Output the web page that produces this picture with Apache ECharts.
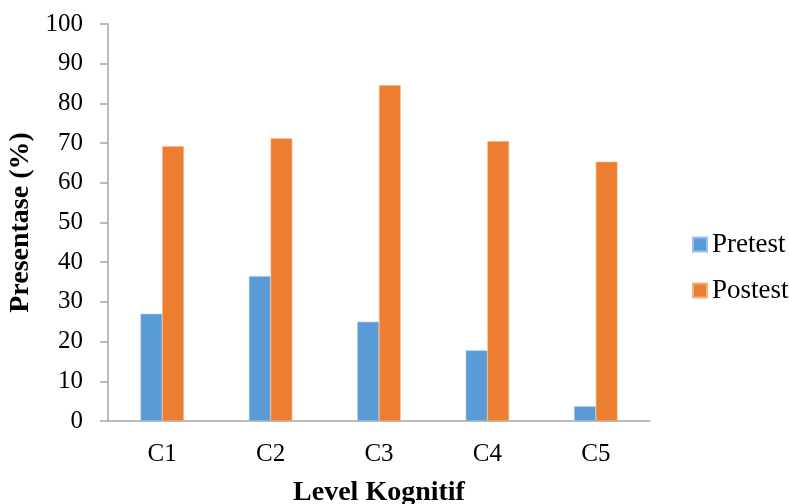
<!DOCTYPE html>
<html>
<head>
<meta charset="utf-8">
<script src="https://cdn.jsdelivr.net/npm/echarts@6/dist/echarts.min.js"></script>
<style>
  html, body { margin: 0; padding: 0; background: #ffffff; }
  #chart { width: 789px; height: 504px; }
</style>
</head>
<body>
<div id="chart"></div>
<script>
// Cognitive levels and percentages before and after the treatment
const categories = ['C1', 'C2', 'C3', 'C4', 'C5'];
const pretest = [27, 36.5, 25, 17.8, 3.7];
const postest = [69.2, 71.2, 84.6, 70.5, 65.3];
const yTicks = { min: 0, max: 100, interval: 10 };

const serif = '"Liberation Serif", "Times New Roman", serif';
const axisGrey = '#a6a6a6';

const chart = echarts.init(document.getElementById('chart'), null, { renderer: 'canvas' });
chart.setOption({
  animation: false,
  backgroundColor: '#ffffff',
  textStyle: { fontFamily: serif, color: '#000000' },
  grid: { left: 108, right: 139, top: 24, bottom: 83, containLabel: false, outerBoundsMode: 'none' },
  legend: {
    orient: 'vertical',
    left: 692,
    top: 231,
    padding: 0,
    itemWidth: 14,
    itemHeight: 14,
    itemGap: 19,
    icon: 'rect',
    textStyle: { fontFamily: serif, fontSize: 27, color: '#000000' },
    data: ['Pretest', 'Postest']
  },
  xAxis: {
    type: 'category',
    data: categories,
    name: 'Level Kognitif',
    nameLocation: 'middle',
    nameGap: 58,
    nameTextStyle: { fontFamily: serif, fontSize: 28, fontWeight: 'bold', color: '#000000' },
    axisLine: { lineStyle: { color: axisGrey, width: 1.5 } },
    axisTick: { show: false },
    axisLabel: { fontFamily: serif, fontSize: 25, color: '#000000', margin: 21 }
  },
  yAxis: {
    type: 'value',
    min: yTicks.min,
    max: yTicks.max,
    interval: yTicks.interval,
    name: 'Presentase (%)',
    nameLocation: 'middle',
    nameGap: 68,
    nameTextStyle: { fontFamily: serif, fontSize: 28, fontWeight: 'bold', color: '#000000' },
    axisLine: { show: true, lineStyle: { color: axisGrey, width: 1.5 } },
    axisTick: { show: true, inside: false, length: 8, lineStyle: { color: axisGrey, width: 1.5 } },
    splitLine: { show: false },
    axisLabel: { fontFamily: serif, fontSize: 25, color: '#000000', margin: 25 }
  },
  series: [
    {
      name: 'Pretest',
      type: 'bar',
      data: pretest,
      barWidth: '20%',
      barGap: '0%',
      itemStyle: { color: '#5b9bd5', borderColor: '#9cc3e6', borderWidth: 0.6 }
    },
    {
      name: 'Postest',
      type: 'bar',
      data: postest,
      barWidth: '20%',
      barGap: '0%',
      itemStyle: { color: '#ed7d31', borderColor: '#f4b183', borderWidth: 0.6 }
    }
  ]
});
</script>
</body>
</html>
